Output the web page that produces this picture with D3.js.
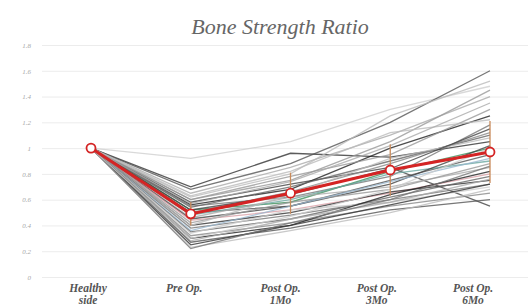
<!DOCTYPE html>
<html>
<head>
<meta charset="utf-8">
<script src="https://cdn.jsdelivr.net/npm/d3@7"></script>
<style>
  body { margin: 0; background: #fff; }
</style>
</head>
<body>
<svg id="chart" width="530" height="307"></svg>
<script>
var categories = ['Healthy side', 'Pre Op.', 'Post Op. 1Mo', 'Post Op. 3Mo', 'Post Op. 6Mo'];
var catLines = [['Healthy', 'side'], ['Pre Op.'], ['Post Op.', '1Mo'], ['Post Op.', '3Mo'], ['Post Op.', '6Mo']];
var yTicks = [0, 0.2, 0.4, 0.6, 0.8, 1, 1.2, 1.4, 1.6, 1.8];

// individual patients: healthy side, pre op, 1Mo, 3Mo, 6Mo
var patients = [
  [1, 0.92, 1.05, 1.30, 1.48],
  [1, 0.70, 0.96, 0.93, 1.05],
  [1, 0.68, 0.88, 1.20, 1.60],
  [1, 0.65, 0.85, 1.10, 1.40],
  [1, 0.62, 0.80, 1.25, 1.52],
  [1, 0.60, 0.75, 1.05, 1.45],
  [1, 0.58, 0.72, 0.85, 0.55],
  [1, 0.56, 0.68, 1.00, 1.25],
  [1, 0.55, 0.62, 0.78, 1.18],
  [1, 0.54, 0.70, 0.90, 1.10],
  [1, 0.52, 0.58, 0.82, 1.00],
  [1, 0.50, 0.66, 0.88, 1.12],
  [1, 0.50, 0.55, 0.75, 0.95],
  [1, 0.48, 0.60, 0.80, 0.90],
  [1, 0.46, 0.62, 0.70, 0.85],
  [1, 0.45, 0.55, 0.72, 1.02],
  [1, 0.44, 0.52, 0.65, 0.80],
  [1, 0.42, 0.58, 0.68, 0.88],
  [1, 0.40, 0.50, 0.66, 0.75],
  [1, 0.40, 0.64, 0.92, 1.08],
  [1, 0.38, 0.48, 0.60, 0.72],
  [1, 0.36, 0.55, 0.74, 0.92],
  [1, 0.35, 0.45, 0.62, 0.78],
  [1, 0.34, 0.52, 0.58, 0.70],
  [1, 0.32, 0.42, 0.55, 0.65],
  [1, 0.30, 0.40, 0.64, 0.82],
  [1, 0.28, 0.45, 0.58, 0.76],
  [1, 0.27, 0.38, 0.52, 0.60],
  [1, 0.25, 0.40, 0.56, 0.72],
  [1, 0.23, 0.36, 0.50, 0.68],
  [1, 0.22, 0.42, 0.60, 0.86],
  [1, 0.60, 0.78, 0.95, 1.30],
  [1, 0.52, 0.64, 0.84, 1.15],
  [1, 0.30, 0.47, 0.68, 1.00],
  [1, 0.63, 0.82, 1.12, 1.22],
  [1, 0.57, 0.74, 1.02, 1.35]
];
var patientColors = [
  '#cfcfcf', '#333', '#555', '#aaa', '#bbb', '#999', '#444', '#222', '#777', '#666',
  '#3f8f5a', '#888', '#555', '#6aa8a0', '#aaa', '#444', '#d9a0a8', '#999', '#333', '#bbb',
  '#777', '#9ab8d0', '#666', '#ccc', '#888', '#222', '#aaa', '#555', '#333', '#bbb',
  '#777', '#999', '#444', '#ccc', '#bbb', '#aaa'
];

var meanValues = [1, 0.49, 0.65, 0.83, 0.97];
var errValues = [0, 0.09, 0.16, 0.2, 0.24];

var serif = 'Liberation Serif';

var svg = d3.select('#chart');

var x = d3.scalePoint().domain(categories).range([91, 490]);
// the category labels sit a little left of their points in the original
var xLabel = d3.scalePoint().domain(categories).range([88, 473]);
var y = d3.scaleLinear().domain([0, 1.8]).range([277, 45]);

svg.append('text')
  .attr('x', 280).attr('y', 34)
  .attr('text-anchor', 'middle')
  .attr('font-family', serif)
  .attr('font-style', 'italic')
  .attr('font-size', 22)
  .attr('fill', '#666')
  .text('Bone Strength Ratio');

// gridlines + y labels
var yAxis = svg.append('g')
  .attr('transform', 'translate(42,0)')
  .call(d3.axisLeft(y).tickValues(yTicks).tickSize(-486).tickFormat(d3.format('~g')));
yAxis.attr('font-family', serif);
yAxis.select('.domain').remove();
yAxis.selectAll('.tick line').attr('stroke', '#ececec');
yAxis.selectAll('.tick text')
  .attr('x', -11)
  .attr('fill', '#a8a8a8')
  .attr('font-size', 7)
  .attr('font-style', 'italic');

// category labels
var cat = svg.append('g').selectAll('text')
  .data(categories)
  .enter()
    .append('text')
    .attr('text-anchor', 'middle')
    .attr('font-family', serif)
    .attr('font-style', 'italic')
    .attr('font-size', 11.5)
    .attr('font-weight', 'bold')
    .attr('fill', '#555')
    .attr('transform', function(d) { return 'translate(' + xLabel(d) + ',292)'; });
cat.each(function(d, i) {
  var t = d3.select(this);
  catLines[i].forEach(function(s, j) {
    t.append('tspan').attr('x', 0).attr('dy', j === 0 ? 0 : 12).text(s);
  });
});

var line = d3.line()
  .x(function(d, i) { return x(categories[i]); })
  .y(function(d) { return y(d); });

svg.append('g').selectAll('path.patient')
  .data(patients)
  .enter()
    .append('path')
    .classed('patient', true)
    .attr('d', line)
    .attr('fill', 'none')
    .attr('stroke', function(d, i) { return patientColors[i]; })
    .attr('stroke-width', 1.3)
    .attr('stroke-opacity', 0.8);

// error bars (zero length where there is no spread)
svg.append('g').selectAll('line')
  .data(meanValues)
  .enter()
    .append('line')
    .attr('x1', function(d, i) { return x(categories[i]); })
    .attr('x2', function(d, i) { return x(categories[i]); })
    .attr('y1', function(d, i) { return y(d + errValues[i]); })
    .attr('y2', function(d, i) { return y(d - errValues[i]); })
    .attr('stroke', '#c98a5a')
    .attr('stroke-width', 1.3);

svg.append('path')
  .datum(meanValues)
  .attr('d', line)
  .attr('fill', 'none')
  .attr('stroke', '#d42424')
  .attr('stroke-width', 3);

svg.append('g').selectAll('circle')
  .data(meanValues)
  .enter()
    .append('circle')
    .attr('cx', function(d, i) { return x(categories[i]); })
    .attr('cy', function(d) { return y(d); })
    .attr('r', 4.5)
    .attr('fill', '#fff')
    .attr('stroke', '#d42424')
    .attr('stroke-width', 1.8);
</script>
</body>
</html>
